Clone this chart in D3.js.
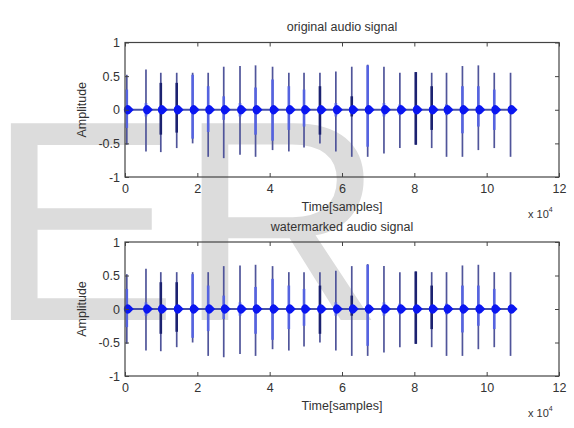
<!DOCTYPE html>
<html>
<head>
<meta charset="utf-8">
<script src="https://cdn.jsdelivr.net/npm/d3@7"></script>
<style>
  body { margin: 0; background: #fff; }
  text { font-family: 'Liberation Sans', Arial, sans-serif; fill: #333; }
</style>
</head>
<body>
<div id="chart"></div>
<script>
// burst positions (x 10^4 samples) and amplitudes
var burstPos = [0.05, 0.58, 0.99, 1.43, 1.87, 2.30, 2.73, 3.18, 3.61, 4.08, 4.53, 4.95, 5.39,
    5.83, 6.27, 6.71, 7.16, 7.60, 8.04, 8.48, 8.89, 9.33, 9.77, 10.21, 10.66];
var burstMax = [0.52, 0.60, 0.55, 0.55, 0.55, 0.55, 0.64, 0.65, 0.66, 0.64, 0.55, 0.55, 0.55,
    0.57, 0.64, 0.67, 0.64, 0.55, 0.56, 0.55, 0.55, 0.65, 0.66, 0.55, 0.55];
var burstMin = [-0.52, -0.62, -0.63, -0.57, -0.50, -0.70, -0.72, -0.67, -0.70, -0.60, -0.62, -0.56, -0.50,
    -0.62, -0.70, -0.70, -0.65, -0.57, -0.52, -0.57, -0.70, -0.70, -0.60, -0.57, -0.70];
// denser inner part of each burst
var coreMax = [0.30, 0.10, 0.40, 0.40, 0.52, 0.35, 0.20, 0.10, 0.33, 0.45, 0.35, 0.30, 0.35,
    0.10, 0.20, 0.66, 0.10, 0.08, 0.56, 0.35, 0.08, 0.35, 0.35, 0.30, 0.05];
var coreMin = [-0.27, -0.10, -0.37, -0.34, -0.43, -0.33, -0.15, -0.10, -0.37, -0.46, -0.30, -0.25, -0.37,
    -0.10, -0.10, -0.55, -0.10, -0.08, -0.52, -0.30, -0.08, -0.35, -0.25, -0.30, -0.05];
var coreType = ['b', 'b', 'd', 'd', 'b', 'b', 'b', 'b', 'b', 'b', 'b', 'b', 'd',
    'b', 'd', 'b', 'b', 'b', 'd', 'd', 'b', 'b', 'b', 'b', 'b'];
var signalEnd = 10.8;

var xTicks = [0, 2, 4, 6, 8, 10, 12];
var yTicks = [-1, -0.5, 0, 0.5, 1];
var titles = ['original audio signal', 'watermarked audio signal'];

var width = 574, height = 428;

var svg = d3.select('#chart')
    .append('svg')
    .attr('width', width)
    .attr('height', height)
    .style('display', 'block');

svg.append('rect').attr('width', width).attr('height', height).attr('fill', '#fff');

// big grey watermark behind the plots
svg.append('text')
    .attr('x', -12.6)
    .attr('y', 320)
    .style('font-size', '286px')
    .style('fill', '#dcdcdc')
    .text('ER');

var x = d3.scaleLinear().domain([0, 12]).range([125, 559]);

var bursts = burstPos.map(function(p, i) {
    return { x: p, max: burstMax[i], min: burstMin[i], cmax: coreMax[i], cmin: coreMin[i], type: coreType[i] };
});

var panels = [{ top: 42.5, bottom: 177 }, { top: 242, bottom: 376 }];

panels.forEach(function(p, k) {
    var y = d3.scaleLinear().domain([-1, 1]).range([p.bottom, p.top]);
    var g = svg.append('g');

    // signal: flat line at zero plus the bursts
    g.append('line')
        .attr('x1', x(0)).attr('x2', x(signalEnd))
        .attr('y1', y(0)).attr('y2', y(0))
        .attr('stroke', '#4650a6')
        .attr('stroke-width', 2);

    var b = g.selectAll('g.burst')
        .data(bursts)
        .enter()
        .append('g')
        .attr('class', 'burst');

    b.append('line')
        .attr('x1', function(d) { return x(d.x); })
        .attr('x2', function(d) { return x(d.x); })
        .attr('y1', function(d) { return y(d.max); })
        .attr('y2', function(d) { return y(d.min); })
        .attr('stroke', '#50559a')
        .attr('stroke-width', 1.7);

    b.append('line')
        .attr('x1', function(d) { return x(d.x); })
        .attr('x2', function(d) { return x(d.x); })
        .attr('y1', function(d) { return y(d.cmax); })
        .attr('y2', function(d) { return y(d.cmin); })
        .attr('stroke', function(d) { return d.type == 'd' ? '#1c2270' : '#5563e0'; })
        .attr('stroke-width', 2.6);

    b.append('path')
        .attr('d', function(d) {
            var cx = x(d.x) + 1, cy = y(0);
            return 'M' + (cx - 4) + ',' + cy +
                'A4,4.5 0 0,1 ' + (cx + 2) + ',' + (cy - 4) +
                'L' + (cx + 6) + ',' + cy +
                'L' + (cx + 2) + ',' + (cy + 4) +
                'A4,4.5 0 0,1 ' + (cx - 4) + ',' + cy + 'Z';
        })
        .attr('fill', '#0a16f2');

    // axes box with inward ticks on all four sides
    g.append('rect')
        .attr('x', x(0)).attr('y', p.top)
        .attr('width', x(12) - x(0)).attr('height', p.bottom - p.top)
        .attr('fill', 'none')
        .attr('stroke', '#444')
        .attr('stroke-width', 1.2);

    g.append('g')
        .attr('transform', 'translate(0,' + p.bottom + ')')
        .call(d3.axisBottom(x).tickValues(xTicks).tickSizeInner(-4).tickSizeOuter(0).tickPadding(7)
            .tickFormat(d3.format('d')))
        .call(function(a) {
            a.select('.domain').remove();
            a.selectAll('line').attr('stroke', '#444');
            a.selectAll('text').style('font-size', '12.5px').attr('fill', '#333');
        });

    g.append('g')
        .attr('transform', 'translate(0,' + p.top + ')')
        .call(d3.axisTop(x).tickValues(xTicks).tickSizeInner(-4).tickSizeOuter(0).tickFormat(''))
        .call(function(a) {
            a.select('.domain').remove();
            a.selectAll('line').attr('stroke', '#444');
        });

    g.append('g')
        .attr('transform', 'translate(' + x(0) + ',0)')
        .call(d3.axisLeft(y).tickValues(yTicks).tickSizeInner(-4).tickSizeOuter(0).tickPadding(5)
            .tickFormat(function(d) { return String(d); }))
        .call(function(a) {
            a.select('.domain').remove();
            a.selectAll('line').attr('stroke', '#444');
            a.selectAll('text').style('font-size', '12.5px').attr('fill', '#333');
        });

    g.append('g')
        .attr('transform', 'translate(' + x(12) + ',0)')
        .call(d3.axisRight(y).tickValues(yTicks).tickSizeInner(-4).tickSizeOuter(0).tickFormat(''))
        .call(function(a) {
            a.select('.domain').remove();
            a.selectAll('line').attr('stroke', '#444');
        });

    // labels
    g.append('text')
        .attr('x', (x(0) + x(12)) / 2)
        .attr('y', p.top - 11.5)
        .attr('text-anchor', 'middle')
        .style('font-size', '12.5px')
        .text(titles[k]);

    g.append('text')
        .attr('x', (x(0) + x(12)) / 2)
        .attr('y', p.bottom + 33.5)
        .attr('text-anchor', 'middle')
        .style('font-size', '12.5px')
        .text('Time[samples]');

    g.append('text')
        .attr('transform', 'translate(86,' + ((p.top + p.bottom) / 2) + ') rotate(-90)')
        .attr('text-anchor', 'middle')
        .style('font-size', '12.5px')
        .text('Amplitude');

    var sc = g.append('text')
        .attr('x', 528)
        .attr('y', p.bottom + 40.5)
        .style('font-size', '11px');
    sc.append('tspan').text('x 10');
    sc.append('tspan').attr('dy', -6).style('font-size', '7px').text('4');
});
</script>
</body>
</html>
